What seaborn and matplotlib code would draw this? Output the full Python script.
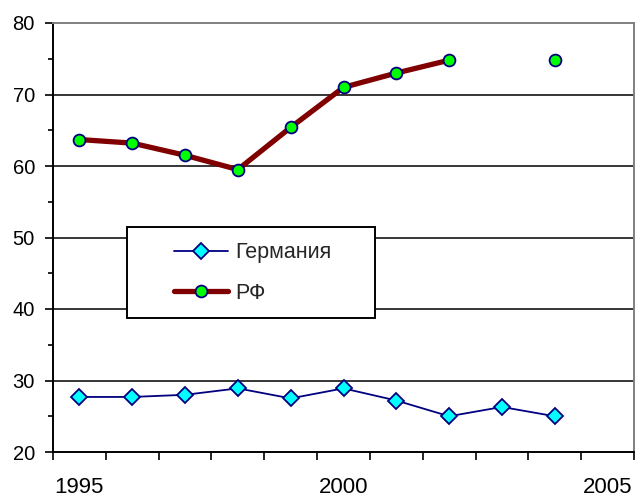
import numpy as np
import pandas as pd
import matplotlib
matplotlib.use("Agg")
import matplotlib.pyplot as plt
from matplotlib.lines import Line2D
from matplotlib.patches import Rectangle
from matplotlib.ticker import FixedLocator, NullFormatter, FixedFormatter
import seaborn as sns

# data
years = [1995, 1996, 1997, 1998, 1999, 2000, 2001, 2002, 2003, 2004, 2005]
germany = [27.7, 27.7, 28.0, 28.9, 27.5, 28.9, 27.2, 25.0, 26.3, 25.0, np.nan]
rf = [63.7, 63.2, 61.5, 59.5, 65.4, 71.0, 73.0, 74.8, np.nan, 74.8, np.nan]
series_names = ["Германия", "РФ"]
y_ticks = [20, 30, 40, 50, 60, 70, 80]
x_labels = ["1995", "2000", "2005"]


def to_long(name, values):
    # split the series into runs so that gaps stay gaps
    rows, seg = [], 0
    for yr, v in zip(years, values):
        if np.isnan(v):
            seg += 1
            continue
        rows.append({"year": yr, "value": v, "series": name, "seg": seg})
    return pd.DataFrame(rows)


df_de = to_long(series_names[0], germany)
df_rf = to_long(series_names[1], rf)

sns.set_theme(style="white")
plt.rcParams["font.family"] = ["Liberation Sans", "DejaVu Sans"]

W, H = 638, 497
fig = plt.figure(figsize=(W / 100, H / 100), dpi=100)
ax = fig.add_axes([53 / W, 1 - 452 / H, (634 - 53) / W, (452 - 23) / H])

navy = "#000080"
de_style = dict(color=navy, linewidth=1.3, marker="D", markersize=8,
                markerfacecolor="#00FFFF", markeredgecolor=navy, markeredgewidth=1.3)
rf_style = dict(color="#800000", linewidth=3.8, marker="o", markersize=8.5,
                markerfacecolor="#00FF00", markeredgecolor=navy, markeredgewidth=1.3)

sns.lineplot(data=df_de, x="year", y="value", units="seg", estimator=None,
             ax=ax, zorder=3, **de_style)
sns.lineplot(data=df_rf, x="year", y="value", units="seg", estimator=None,
             ax=ax, zorder=3, **rf_style)

ax.set_xlim(years[0] - 0.5, years[-1] + 0.5)
ax.set_ylim(y_ticks[0], y_ticks[-1])
ax.set_xlabel("")
ax.set_ylabel("")

# x: tick marks at category borders, labels in category centres
ax.xaxis.set_major_locator(FixedLocator([y - 0.5 for y in years] + [years[-1] + 0.5]))
ax.xaxis.set_major_formatter(NullFormatter())
ax.xaxis.set_minor_locator(FixedLocator([int(s) for s in x_labels]))
ax.xaxis.set_minor_formatter(FixedFormatter(x_labels))
ax.tick_params(axis="x", which="major", direction="out", length=6, width=1.2,
               color="black", bottom=True)
ax.tick_params(axis="x", which="minor", length=0, pad=18, labelsize=16,
               labelcolor="black", bottom=True)

# y: major + minor ticks
ax.yaxis.set_major_locator(FixedLocator(y_ticks))
ax.yaxis.set_minor_locator(FixedLocator([t + 5 for t in y_ticks[:-1]]))
ax.tick_params(axis="y", which="major", direction="out", length=6, width=1.2,
               color="black", left=True, pad=7, labelsize=14.5, labelcolor="black")
ax.tick_params(axis="y", which="minor", direction="out", length=3.5, width=1.2,
               color="black", left=True)

ax.yaxis.grid(True, which="major", color="black", linewidth=1.1)
ax.set_axisbelow(True)
gl = ax.yaxis.get_gridlines()
gl[0].set_visible(False)
gl[-1].set_visible(False)

for side in ["left", "bottom"]:
    ax.spines[side].set_color("black")
    ax.spines[side].set_linewidth(1.4)
for side in ["top", "right"]:
    ax.spines[side].set_color("#808080")
    ax.spines[side].set_linewidth(1.4)

# legend box (Excel style, wide padding)
box = Rectangle((127 / W, 1 - 318 / H), (375 - 127) / W, (318 - 227) / H,
                transform=fig.transFigure, facecolor="white", edgecolor="black",
                linewidth=1.4, zorder=4.5, clip_on=False)
ax.add_patch(box)

handles = [Line2D([], [], **de_style), Line2D([], [], **rf_style)]
leg = ax.legend(handles, series_names, loc="center left",
                bbox_to_anchor=(174 / W, 1 - 273 / H), bbox_transform=fig.transFigure,
                frameon=False, fontsize=15.5, handlelength=2.5, handletextpad=0.33,
                labelspacing=0.9, borderpad=0, borderaxespad=0)
leg.set_zorder(5)

fig.savefig("out.png", dpi=100)
